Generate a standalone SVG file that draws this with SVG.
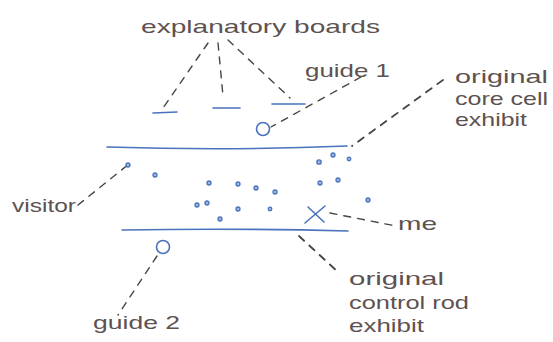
<svg xmlns="http://www.w3.org/2000/svg" width="553" height="342" viewBox="0 0 553 342">
<style>
.t{font-family:"Liberation Sans",Arial,sans-serif;fill:#5e5250;font-size:19px}
.c{stroke:#4a4444;stroke-width:1.4;stroke-dasharray:7 7;fill:none;stroke-linecap:round}
.b{stroke:#4a72bd;stroke-width:1.6;fill:none;stroke-linecap:round}
.d{stroke:#4a72bd;stroke-width:1.3;fill:#9fb6e0}
</style>
<rect width="553" height="342" fill="#ffffff"/>
<g id="connectors">
<path class="c" d="M208 43 L163 108"/>
<path class="c" d="M218 43 L223 96"/>
<path class="c" d="M228 40 L290 98"/>
<path class="c" d="M361 77 L271 127"/>
<path class="c" d="M443 80 L352 146" style="stroke-width:1.8"/>
<path class="c" d="M78 205 L129 164"/>
<path class="c" d="M330 213 L396 226"/>
<path class="c" d="M157 256 L118 315"/>
<path class="c" d="M299 236 L338 272" style="stroke-width:1.8"/>
</g>
<g id="corridor">
<path class="b" d="M107 147 Q230 151 347 146"/>
<path class="b" d="M122 230 Q240 228 348 231"/>
</g>
<g id="boards">
<path class="b" d="M153 113 L177 112"/>
<path class="b" d="M213 108 L240 108"/>
<path class="b" d="M272 104 L305 104"/>
</g>
<g id="guide1"><circle class="b" cx="263" cy="129" r="6.5"/></g>
<g id="guide2"><circle class="b" cx="163" cy="247" r="6.5"/></g>
<g id="visitors">
<circle class="d" cx="128" cy="165" r="2"/>
<circle class="d" cx="155" cy="175" r="2"/>
<circle class="d" cx="209" cy="183" r="2"/>
<circle class="d" cx="238" cy="184" r="2"/>
<circle class="d" cx="256" cy="188" r="2"/>
<circle class="d" cx="275" cy="192" r="2"/>
<circle class="d" cx="197" cy="205" r="2"/>
<circle class="d" cx="207" cy="203" r="2"/>
<circle class="d" cx="238" cy="209" r="2"/>
<circle class="d" cx="270" cy="209" r="1.8"/>
<circle class="d" cx="220" cy="219" r="2"/>
<circle class="d" cx="319" cy="162" r="2.2"/>
<circle class="d" cx="333" cy="155" r="2"/>
<circle class="d" cx="349" cy="159" r="1.8"/>
<circle class="d" cx="320" cy="183" r="2"/>
<circle class="d" cx="338" cy="180" r="2"/>
<circle class="d" cx="368" cy="200" r="2"/>
</g>
<g id="me-mark"><path class="b" d="M308 207 L324 222 M325 206 L305 223"/></g>
<g id="labels">
<text class="t" x="141" y="33" font-size="23" textLength="239" lengthAdjust="spacingAndGlyphs">explanatory boards</text>
<text class="t" x="305" y="77" textLength="85" lengthAdjust="spacingAndGlyphs">guide 1</text>
<text class="t" x="455" y="83" textLength="93" lengthAdjust="spacingAndGlyphs">original</text>
<text class="t" x="455" y="105" textLength="93" lengthAdjust="spacingAndGlyphs">core cell</text>
<text class="t" x="455" y="126" textLength="72" lengthAdjust="spacingAndGlyphs">exhibit</text>
<text class="t" x="12" y="212" textLength="64" lengthAdjust="spacingAndGlyphs">visitor</text>
<text class="t" x="398" y="230" textLength="39" lengthAdjust="spacingAndGlyphs">me</text>
<text class="t" x="93" y="329" textLength="87" lengthAdjust="spacingAndGlyphs">guide 2</text>
<text class="t" x="349" y="285" textLength="95" lengthAdjust="spacingAndGlyphs">original</text>
<text class="t" x="349" y="309" textLength="120" lengthAdjust="spacingAndGlyphs">control rod</text>
<text class="t" x="349" y="332" textLength="75" lengthAdjust="spacingAndGlyphs">exhibit</text>
</g>
</svg>
